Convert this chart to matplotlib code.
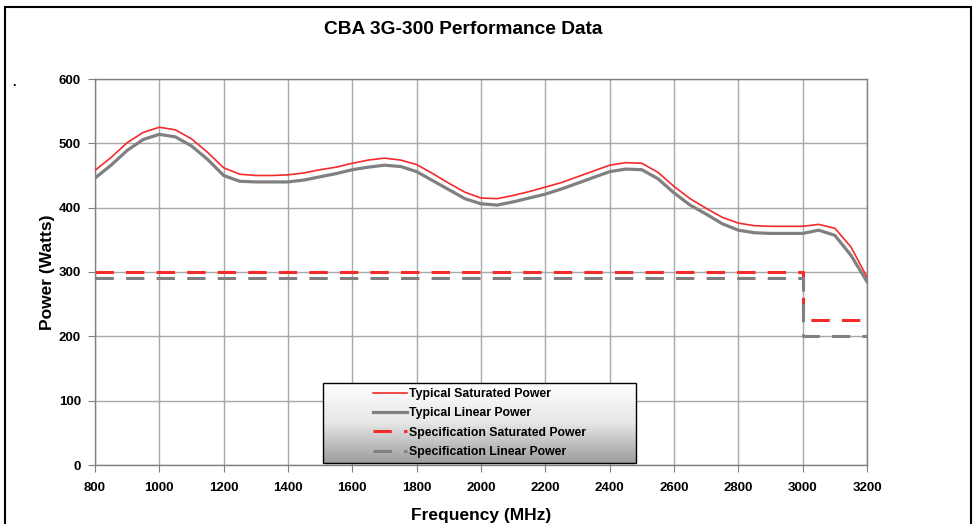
import numpy as np
import matplotlib
matplotlib.use("Agg")
import matplotlib.pyplot as plt
from matplotlib.patches import Rectangle
from matplotlib.colors import LinearSegmentedColormap

plt.rcParams['font.family'] = ['Liberation Sans', 'DejaVu Sans']
plt.rcParams['font.weight'] = 'bold'

# dados
freq = [800, 850, 900, 950, 1000, 1050, 1100, 1150, 1200, 1250, 1300, 1350,
        1400, 1450, 1500, 1550, 1600, 1650, 1700, 1750, 1800, 1850, 1900, 1950,
        2000, 2050, 2100, 2150, 2200, 2250, 2300, 2350, 2400, 2450, 2500, 2550,
        2600, 2650, 2700, 2750, 2800, 2850, 2900, 2950, 3000, 3050, 3100, 3150,
        3200]
typical_sat = [458, 478, 501, 517, 525, 521, 507, 486, 462, 452, 450, 450,
               451, 454, 459, 463, 469, 474, 477, 474, 467, 453, 438, 424,
               415, 414, 419, 425, 432, 439, 448, 457, 466, 470, 469, 455,
               433, 414, 399, 385, 376, 372, 371, 371, 371, 374, 368, 339,
               292]
typical_lin = [446, 466, 489, 506, 514, 510, 496, 475, 450, 441, 440, 440,
               440, 443, 448, 453, 459, 463, 466, 464, 456, 442, 428, 414,
               406, 404, 409, 415, 421, 429, 438, 447, 456, 460, 459, 445,
               423, 404, 390, 375, 365, 361, 360, 360, 360, 365, 357, 326,
               285]

spec_freq = [800, 3000, 3200]
spec_sat = [300, 225, 225]
spec_lin = [290, 200, 200]

x_ticks = [800, 1000, 1200, 1400, 1600, 1800, 2000, 2200, 2400, 2600, 2800, 3000, 3200]
y_ticks = [0, 100, 200, 300, 400, 500, 600]

red = '#f52a2a'
grey = '#808080'

fig = plt.figure(figsize=(9.78, 5.24), dpi=100)
ax = fig.add_axes([95 / 978, 59 / 524, 772 / 978, 386 / 524])

ax.plot(freq, typical_sat, color=red, lw=1.2, label='Typical Saturated Power', zorder=3)
ax.plot(freq, typical_lin, color=grey, lw=2.3, label='Typical Linear Power', zorder=2.9)
ax.plot(spec_freq, spec_sat, color=red, lw=2.2, dashes=(6, 4), drawstyle='steps-post',
        label='Specification Saturated Power', zorder=2.5)
ax.plot(spec_freq, spec_lin, color=grey, lw=2.2, dashes=(6, 4), drawstyle='steps-post',
        label='Specification Linear Power', zorder=2.6)

ax.set_xlim(800, 3200)
ax.set_ylim(0, 600)
ax.set_xticks(x_ticks)
ax.set_yticks(y_ticks)
ax.grid(True, color='#a8a8a8', lw=1.0)
ax.set_axisbelow(True)
for s in ax.spines.values():
    s.set_color(grey)
    s.set_linewidth(1.0)
ax.tick_params(direction='out', length=5, color=grey, labelsize=9.5, pad=5)
ax.tick_params(axis='x', pad=7)

ax.set_xlabel('Frequency (MHz)', fontsize=12.5, fontweight='bold', labelpad=10)
ax.set_ylabel('Power (Watts)', fontsize=12.5, fontweight='bold', labelpad=3)
fig.text(463 / 978, 1 - 29 / 524, 'CBA 3G-300 Performance Data', fontsize=13.8,
         fontweight='bold', ha='center', va='center')

# caixa da legenda com degrade
x0, x1 = (323 - 95) / 772, (636 - 95) / 772
y0, y1 = (465 - 463) / 386, (465 - 383) / 386
cmap = LinearSegmentedColormap.from_list('leg', ['#ffffff', '#e6e6e6', '#9c9c9c'])
grad = np.linspace(0, 1, 256).reshape(-1, 1)
ax.imshow(grad, cmap=cmap, aspect='auto', extent=[x0, x1, y0, y1],
          transform=ax.transAxes, zorder=4, origin='upper')
ax.add_patch(Rectangle((x0, y0), x1 - x0, y1 - y0, transform=ax.transAxes,
                       fill=False, edgecolor='black', lw=1.0, zorder=4.5))
leg = ax.legend(loc='center', bbox_to_anchor=(x0, y0, x1 - x0, y1 - y0),
                frameon=False, fontsize=8.8, handlelength=2.8, handletextpad=0.15,
                labelspacing=0.6, borderpad=0.2)
leg.set_zorder(5)
ax.set_xlim(800, 3200)
ax.set_ylim(0, 600)

# moldura externa
fig.patches.append(Rectangle((5 / 978, -0.05), 966 / 978, 1.05 - 7 / 524,
                             transform=fig.transFigure, fill=False,
                             edgecolor='black', lw=1.5))
fig.text(14 / 978, 1 - 83 / 524, '.', fontsize=9, ha='center', va='center')

fig.savefig('out.png', dpi=100)
